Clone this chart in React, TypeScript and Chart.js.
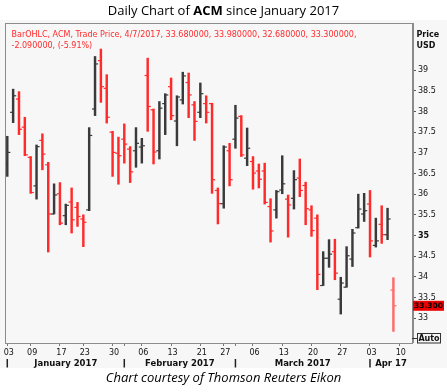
import React, { useEffect, useRef } from 'react';
import { Chart, registerables } from 'chart.js';

Chart.register(...registerables);

// Trading days (Jan 3 2017 .. Apr 7 2017)
const dates = [
  '01/03', '01/04', '01/05', '01/06', '01/09', '01/10', '01/11', '01/12', '01/13', '01/17',
  '01/18', '01/19', '01/20', '01/23', '01/24', '01/25', '01/26', '01/27', '01/30', '01/31',
  '02/01', '02/02', '02/03', '02/06', '02/07', '02/08', '02/09', '02/10', '02/13', '02/14',
  '02/15', '02/16', '02/17', '02/21', '02/22', '02/23', '02/24', '02/27', '02/28',
  '03/01', '03/02', '03/03', '03/06', '03/07', '03/08', '03/09', '03/10', '03/13', '03/14',
  '03/15', '03/16', '03/17', '03/20', '03/21', '03/22', '03/23', '03/24', '03/27', '03/28',
  '03/29', '03/30', '03/31', '04/03', '04/04', '04/05', '04/06', '04/07',
];

const openPrices = [
  36.73, 37.98, 38.30, 37.62, 36.89, 36.20, 37.30, 36.71, 35.52, 36.01,
  35.48, 35.81, 35.68, 35.40, 35.62, 38.06, 39.23, 38.56, 37.50, 36.99,
  37.33, 37.09, 37.05, 37.14, 38.87, 38.04, 37.05, 38.19, 38.60, 37.77,
  38.28, 38.70, 38.16, 37.98, 38.19, 38.19, 36.09, 35.77, 37.05,
  37.33, 37.88, 36.87, 36.79, 36.56, 36.56, 35.70, 35.62, 36.10, 35.88,
  35.90, 36.39, 36.21, 35.62, 35.42, 33.79, 34.45, 34.61, 33.46, 33.75,
  34.43, 35.19, 35.52, 35.76, 34.76, 35.27, 35.02, 33.68,
];
const highPrices = [
  37.40, 38.54, 38.48, 37.86, 36.91, 37.19, 37.46, 36.77, 36.25, 36.28,
  35.76, 36.15, 35.80, 35.50, 37.61, 39.33, 39.51, 38.89, 37.52, 37.38,
  37.70, 37.15, 37.61, 37.35, 39.29, 38.06, 38.24, 38.43, 38.81, 38.38,
  38.95, 38.93, 38.24, 38.69, 38.38, 38.20, 36.15, 37.17, 37.23,
  38.15, 37.90, 37.60, 36.91, 36.73, 36.75, 35.89, 36.09, 36.93, 35.98,
  36.57, 36.85, 36.29, 35.72, 35.50, 34.61, 34.90, 34.91, 33.99, 34.73,
  35.15, 36.00, 36.02, 36.09, 35.42, 35.72, 35.66, 33.98,
];
const lowPrices = [
  36.43, 37.73, 37.44, 36.93, 36.02, 35.88, 36.59, 34.60, 35.52, 35.26,
  35.26, 35.06, 35.22, 34.73, 35.60, 37.90, 38.22, 37.72, 36.43, 36.24,
  36.75, 36.28, 36.65, 36.75, 37.52, 36.73, 36.85, 37.44, 37.80, 37.17,
  38.18, 37.85, 37.30, 37.85, 37.72, 36.02, 35.28, 35.66, 36.20,
  37.11, 36.91, 36.69, 36.12, 36.15, 35.76, 34.84, 35.42, 36.01, 34.96,
  35.64, 35.94, 35.26, 34.98, 33.69, 33.79, 34.23, 33.93, 33.10, 33.75,
  34.25, 35.18, 35.34, 34.48, 34.72, 34.81, 34.90, 32.68,
];
const closePrices = [
  37.01, 38.38, 37.57, 36.95, 36.04, 37.15, 36.97, 35.52, 35.98, 35.30,
  35.73, 35.38, 35.46, 35.32, 37.42, 39.15, 38.60, 37.86, 37.01, 36.93,
  37.21, 36.54, 37.23, 37.17, 38.12, 37.02, 38.08, 38.40, 37.90, 38.35,
  38.86, 38.40, 37.76, 38.43, 37.98, 36.35, 35.77, 37.14, 36.35,
  37.84, 36.95, 37.11, 36.51, 36.36, 35.80, 35.11, 36.06, 36.25, 35.74,
  36.35, 36.09, 35.65, 35.12, 34.06, 34.45, 34.55, 34.09, 33.85, 34.51,
  35.06, 35.64, 35.60, 34.87, 34.87, 35.02, 35.40, 33.30,
];

// Bottom axis tick labels (positions are trading-day indices)
const xTickIndex = [0, 4, 9, 13, 18, 23, 28, 33, 37, 42, 47, 52, 57, 62, 67];
const xTickLabels = ['03', '09', '17', '23', '30', '06', '13', '21', '27', '06', '13', '20', '27', '03', '10'];
const monthLabels = ['January 2017', 'February 2017', 'March 2017', 'Apr 17'];
const monthStartIndex = [0, 20, 39, 62];

// Right axis ticks
const yTicks = [33, 33.5, 34, 34.5, 35, 35.5, 36, 36.5, 37, 37.5, 38, 38.5, 39];

const legendLine1 = 'BarOHLC, ACM, Trade Price, 4/7/2017, 33.680000, 33.980000, 32.680000, 33.300000,';
const legendLine2 = '-2.090000, (-5.91%)';

const UP = '#3a3a3a';
const DOWN = '#ff2b2b';
const LAST = '#ff6b6b';
const FONT = '"DejaVu Sans", sans-serif';

export default function App() {
  const ref = useRef<HTMLCanvasElement>(null);

  useEffect(() => {
    const canvas = ref.current;
    if (!canvas) return;
    const idx = dates.map((_, i) => i);
    const last = dates.length - 1;
    const colors = idx.map((i) => (i === last ? LAST : closePrices[i] >= openPrices[i] ? UP : DOWN));
    const tickValues = Array.from(new Set([...xTickIndex, ...monthStartIndex])).sort((a, b) => a - b);

    const bgPlugin = {
      id: 'bgPlugin',
      beforeDraw(chart: any) {
        const { ctx, width, height } = chart;
        ctx.save();
        ctx.fillStyle = '#ffffff';
        ctx.fillRect(0, 0, width, height);
        ctx.fillStyle = '#f7f7f7';
        ctx.fillRect(0, 20, width, 348);
        ctx.restore();
      },
    };

    const overlayPlugin = {
      id: 'overlayPlugin',
      afterDraw(chart: any) {
        const { ctx, chartArea: a, scales } = chart;
        const xs = scales.x;
        const ys = scales.y;
        ctx.save();
        // frame
        ctx.strokeStyle = '#8c8c8c';
        ctx.lineWidth = 1;
        ctx.strokeRect(a.left + 0.5, a.top + 0.5, a.right - a.left, a.bottom - a.top);
        ctx.strokeStyle = '#8a8a8a';
        ctx.lineWidth = 2;
        ctx.beginPath();
        ctx.moveTo(a.right + 1, a.top);
        ctx.lineTo(a.right + 1, a.bottom);
        ctx.stroke();

        // legend text
        ctx.fillStyle = '#ff2a2a';
        ctx.font = `8px ${FONT}`;
        ctx.textAlign = 'left';
        ctx.textBaseline = 'alphabetic';
        ctx.fillText(legendLine1, 11.5, 37.3);
        ctx.fillText(legendLine2, 11.5, 48);

        // axis unit
        ctx.fillStyle = '#111';
        ctx.font = `bold 8px ${FONT}`;
        ctx.fillText('Price', 416.5, 36.7);
        ctx.fillText('USD', 416.5, 48.3);

        // last price box
        const py = ys.getPixelForValue(closePrices[last]);
        ctx.fillStyle = '#ee0000';
        ctx.fillRect(a.right + 1, py - 5, 31, 10);
        ctx.fillStyle = '#000';
        ctx.font = `bold 7.5px ${FONT}`;
        ctx.textBaseline = 'middle';
        ctx.fillText(closePrices[last].toFixed(3), a.right + 2, py + 0.5);

        // Auto box
        ctx.strokeStyle = '#333';
        ctx.lineWidth = 1;
        ctx.beginPath();
        ctx.moveTo(a.right, 338.5);
        ctx.lineTo(a.right + 5, 338.5);
        ctx.stroke();
        ctx.fillStyle = '#f4f4f4';
        ctx.fillRect(417.5, 333.5, 23, 9.5);
        ctx.strokeRect(417.5, 333.5, 23, 9.5);
        ctx.fillStyle = '#111';
        ctx.font = `bold 8px ${FONT}`;
        ctx.textAlign = 'center';
        ctx.fillText('Auto', 429, 338.5);

        // month row
        ctx.strokeStyle = '#222';
        ctx.lineWidth = 1.5;
        ctx.font = `bold 8.5px ${FONT}`;
        ctx.textBaseline = 'alphabetic';
        monthLabels.forEach((m, i) => {
          const s = xs.getPixelForValue(monthStartIndex[i]);
          const e = i < monthLabels.length - 1 ? xs.getPixelForValue(monthStartIndex[i + 1]) : a.right;
          ctx.beginPath();
          ctx.moveTo(s, 359);
          ctx.lineTo(s, 367.5);
          ctx.stroke();
          ctx.fillText(m, (s + e) / 2, 365.5);
        });
        ctx.restore();
      },
    };

    const tickCommon = {
      type: 'scatter' as const,
      pointStyle: 'line',
      pointRadius: 1.5,
      pointHoverRadius: 1.5,
      pointBorderWidth: 1.2,
      pointBorderColor: colors,
      borderColor: colors,
      showLine: false,
      order: 1,
    };

    const chart = new Chart(canvas, {
      type: 'bar',
      data: {
        datasets: [
          {
            type: 'bar',
            label: 'High-Low',
            data: idx.map((i) => ({ x: i, y: [lowPrices[i], highPrices[i]] })) as any,
            backgroundColor: colors,
            borderWidth: 0,
            barThickness: 1.8,
            grouped: false,
            order: 2,
          } as any,
          { ...tickCommon, label: 'Open', data: idx.map((i) => ({ x: i - 0.27, y: openPrices[i] })) } as any,
          { ...tickCommon, label: 'Close', data: idx.map((i) => ({ x: i + 0.27, y: closePrices[i] })) } as any,
        ],
      },
      options: {
        animation: false,
        responsive: false,
        devicePixelRatio: 1,
        events: [],
        layout: { padding: { left: 5, right: 0, top: 23, bottom: 24 } },
        plugins: {
          legend: { display: false },
          tooltip: { enabled: false },
          title: { display: false },
        },
        scales: {
          x: {
            type: 'linear',
            min: -0.39,
            max: 69.18,
            offset: false,
            afterBuildTicks: (s: any) => {
              s.ticks = tickValues.map((v) => ({ value: v }));
            },
            afterFit: (s: any) => {
              s.height = 25;
            },
            grid: { display: true, drawOnChartArea: false, drawTicks: true, tickLength: 3, tickColor: '#777', offset: false },
            border: { display: false },
            ticks: {
              autoSkip: false,
              maxRotation: 0,
              minRotation: 0,
              padding: 2,
              labelOffset: 1.5,
              color: '#111',
              font: { family: FONT, size: 8 },
              callback: (v: any) => {
                const k = xTickIndex.indexOf(Number(v));
                return k >= 0 ? xTickLabels[k] : '';
              },
            },
          },
          y: {
            type: 'linear',
            position: 'right',
            min: 32.4,
            max: 40.14,
            afterBuildTicks: (s: any) => {
              s.ticks = yTicks.map((v) => ({ value: v }));
            },
            afterFit: (s: any) => {
              s.width = 35;
            },
            grid: { display: true, drawOnChartArea: false, drawTicks: true, tickLength: 4, tickColor: '#555' },
            border: { display: false },
            ticks: {
              padding: 2,
              color: '#111',
              font: (ctx: any) => ({
                family: FONT,
                size: 8,
                weight: ctx.tick && ctx.tick.value === 35 ? 'bold' : 'normal',
              }),
              callback: (v: any) => String(v),
            },
          },
        },
      } as any,
      plugins: [bgPlugin, overlayPlugin],
    });

    return () => chart.destroy();
  }, []);

  return (
    <div style={{ position: 'fixed', left: 0, top: 0, width: 447, height: 392, background: '#fff', overflow: 'hidden' }}>
      <canvas ref={ref} width={447} height={392} style={{ position: 'absolute', left: 0, top: 0, width: 447, height: 392 }} />
      <div
        style={{
          position: 'absolute', top: 2, left: 0, width: 447, textAlign: 'center',
          font: '13px "Open Sans", sans-serif', lineHeight: '16px', color: '#000',
        }}
      >
        Daily Chart of <b>ACM</b> since January 2017
      </div>
      <div
        style={{
          position: 'absolute', top: 369, left: 0, width: 447, textAlign: 'center',
          font: 'italic 13px "Open Sans", sans-serif', lineHeight: '16px', color: '#000',
        }}
      >
        Chart courtesy of Thomson Reuters Eikon
      </div>
    </div>
  );
}
